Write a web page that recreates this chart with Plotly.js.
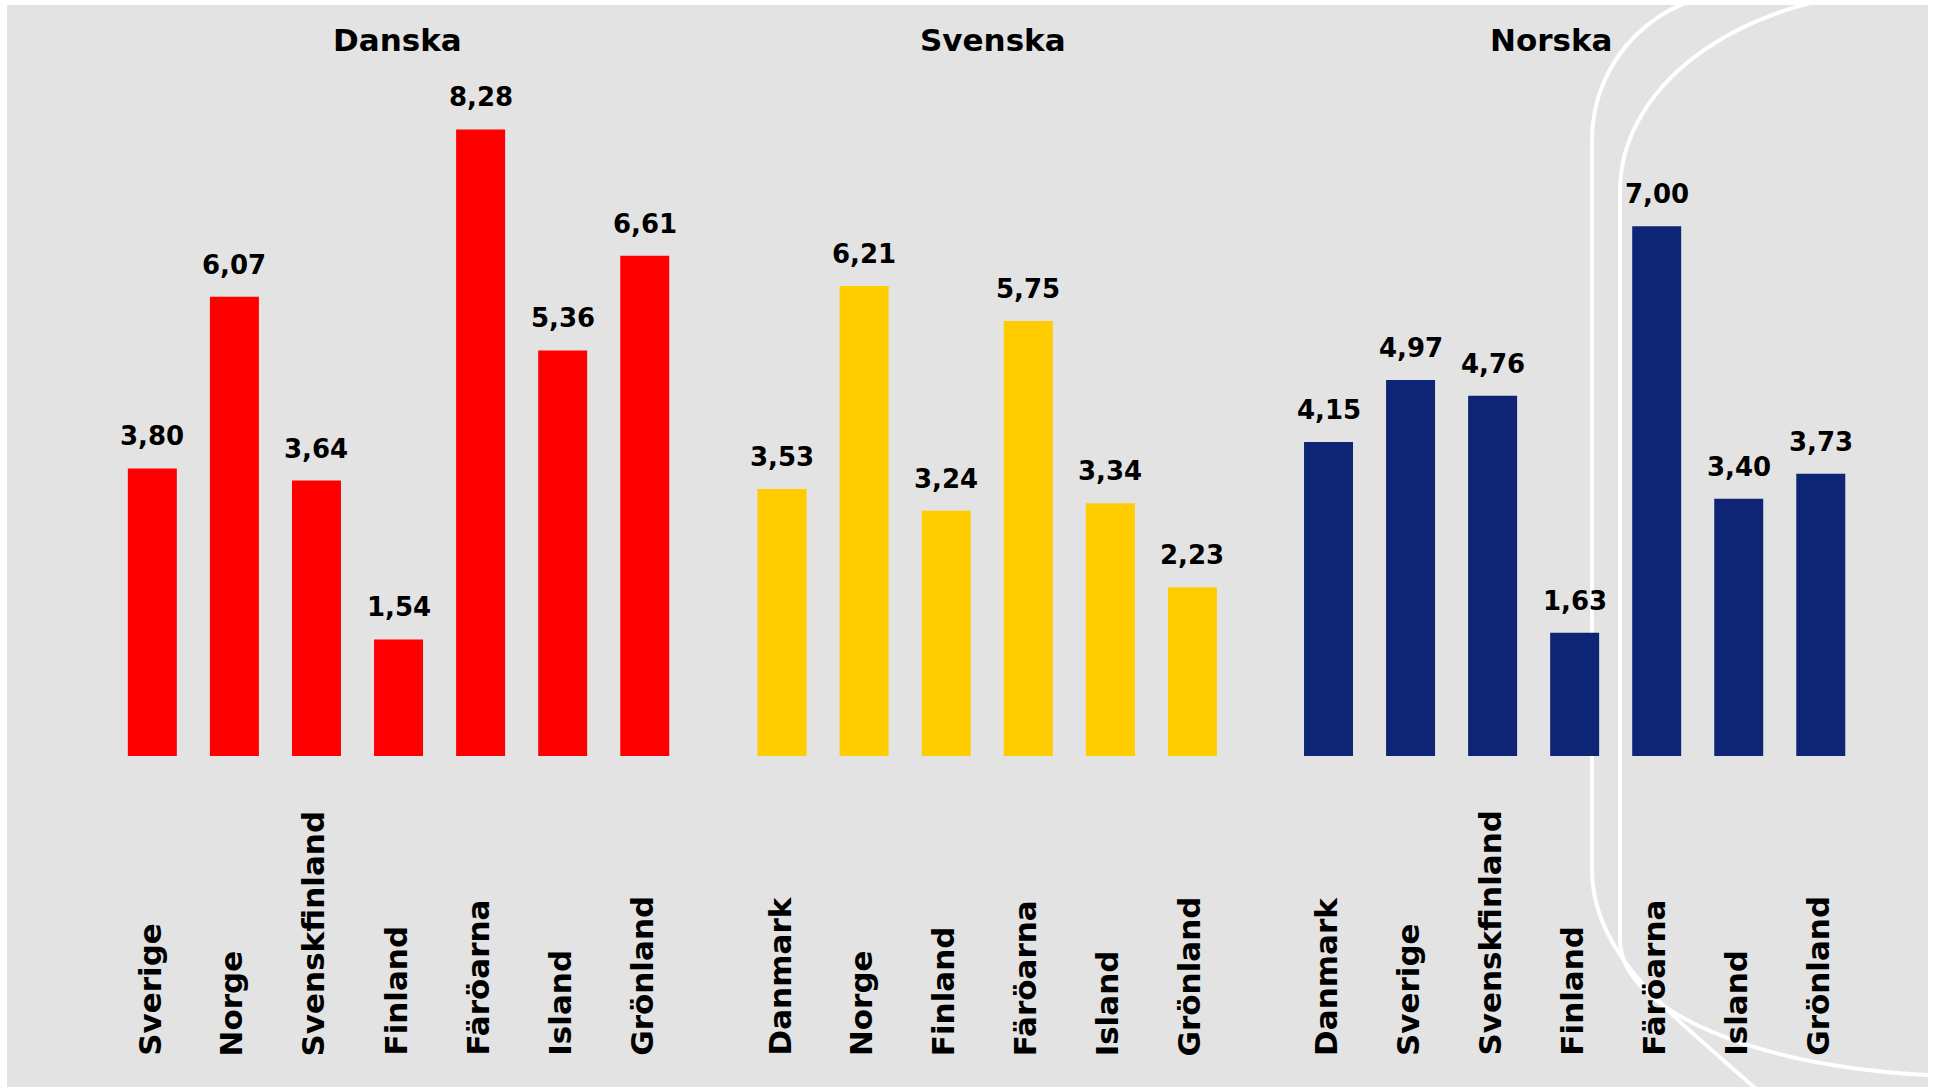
<!DOCTYPE html>
<html>
<head>
<meta charset="utf-8">
<script src="https://cdn.plot.ly/plotly-3.0.1.min.js"></script>
<style>
html,body{margin:0;padding:0;background:#ffffff;}
#chart{width:1933px;height:1087px;}
</style>
</head>
<body>
<div id="chart"></div>
<script>
// ---- data ----
const groupTitles = ['Danska', 'Svenska', 'Norska'];
const danskaCats = ['Sverige', 'Norge', 'Svenskfinland', 'Finland', 'Färöarna', 'Island', 'Grönland'];
const danskaVals = [3.80, 6.07, 3.64, 1.54, 8.28, 5.36, 6.61];
const svenskaCats = ['Danmark', 'Norge', 'Finland', 'Färöarna', 'Island', 'Grönland'];
const svenskaVals = [3.53, 6.21, 3.24, 5.75, 3.34, 2.23];
const norskaCats = ['Danmark', 'Sverige', 'Svenskfinland', 'Finland', 'Färöarna', 'Island', 'Grönland'];
const norskaVals = [4.15, 4.97, 4.76, 1.63, 7.00, 3.40, 3.73];

// ---- layout geometry ----
const W = 1933, H = 1087;
const MT = 75, MB = 331;
const PH = H - MT - MB;           // plot height in px
const baseY = H - MB;             // pixel row of y=0
const px = x => x / W;
const py = y => (baseY - y) / PH;

const groups = [
  {cats: danskaCats, vals: danskaVals, color: '#ff0000', xa: 'x',  dom: [111.3, 685.8], tx: 397},
  {cats: svenskaCats, vals: svenskaVals, color: '#ffcc00', xa: 'x2', dom: [741.0, 1233.5], tx: 993},
  {cats: norskaCats, vals: norskaVals, color: '#0e2576', xa: 'x3', dom: [1287.5, 1861.8], tx: 1551}
];

const FONT = 'DejaVu Sans, Verdana, sans-serif';
const traces = [];
const annotations = [];

groups.forEach((g, i) => {
  traces.push({
    type: 'bar',
    x: g.cats,
    y: g.vals,
    xaxis: g.xa,
    yaxis: 'y',
    marker: {color: g.color, line: {width: 0}},
    hoverinfo: 'x+y',
    showlegend: false
  });
  // group title
  annotations.push({
    xref: 'paper', yref: 'paper',
    x: px(g.tx), y: py(40),
    xanchor: 'center', yanchor: 'middle',
    text: groupTitles[i], showarrow: false,
    font: {family: FONT, size: 31, color: '#000000', weight: 'bold'}
  });
  g.cats.forEach((c, j) => {
    // value label
    annotations.push({
      xref: g.xa, yref: 'y',
      x: c, y: g.vals[j],
      xanchor: 'center', yanchor: 'middle', yshift: 32,
      text: g.vals[j].toFixed(2).replace('.', ','), showarrow: false,
      font: {family: FONT, size: 26, color: '#000000', weight: 'bold'}
    });
    // category label (rotated, bottom aligned)
    annotations.push({
      xref: g.xa, yref: 'paper',
      x: c, y: py(1058), xshift: -3,
      xanchor: 'center', yanchor: 'bottom',
      textangle: -90,
      text: c, showarrow: false,
      font: {family: FONT, size: 31, color: '#000000', weight: 'bold'}
    });
  });
});

function P(x, y) { return px(x).toFixed(5) + ',' + py(y).toFixed(5); }

const shapes = [
  // grey panel
  {type: 'rect', xref: 'paper', yref: 'paper', layer: 'below',
   x0: px(7), x1: px(1928), y0: py(1095), y1: py(5),
   fillcolor: '#e3e3e3', line: {width: 0}},
  // outer decorative curve
  {type: 'path', xref: 'paper', yref: 'paper', layer: 'below',
   path: 'M' + P(1742, -8) + ' C' + P(1659, -8) + ' ' + P(1592, 58) + ' ' + P(1592, 140) +
         ' L' + P(1592, 870) +
         ' C' + P(1592, 960) + ' ' + P(1680, 1020) + ' ' + P(1765, 1097),
   line: {color: '#ffffff', width: 4}},
  // inner decorative curve
  {type: 'path', xref: 'paper', yref: 'paper', layer: 'below',
   path: 'M' + P(1910, -9) + ' C' + P(1750, -9) + ' ' + P(1620, 80) + ' ' + P(1620, 191) +
         ' L' + P(1620, 940) +
         ' C' + P(1620, 1015) + ' ' + P(1777, 1076) + ' ' + P(1970, 1076),
   line: {color: '#ffffff', width: 4}}
];

function xAxis(g) {
  return {
    domain: [px(g.dom[0]), px(g.dom[1])],
    anchor: 'y',
    type: 'category',
    range: [-0.5, g.cats.length - 0.5],
    showticklabels: false, showgrid: false, zeroline: false, showline: false,
    ticks: '', fixedrange: true
  };
}

const layout = {
  width: W, height: H,
  margin: {l: 0, r: 0, t: MT, b: MB, pad: 0},
  paper_bgcolor: '#ffffff',
  plot_bgcolor: 'rgba(0,0,0,0)',
  bargap: 0.403,
  showlegend: false,
  xaxis: xAxis(groups[0]),
  xaxis2: xAxis(groups[1]),
  xaxis3: xAxis(groups[2]),
  yaxis: {
    domain: [0, 1], range: [0, 9],
    visible: false, showgrid: false, zeroline: false, fixedrange: true
  },
  shapes: shapes,
  annotations: annotations,
  font: {family: FONT, color: '#000000'}
};

Plotly.newPlot('chart', traces, layout, {displayModeBar: false, staticPlot: true});
</script>
</body>
</html>
